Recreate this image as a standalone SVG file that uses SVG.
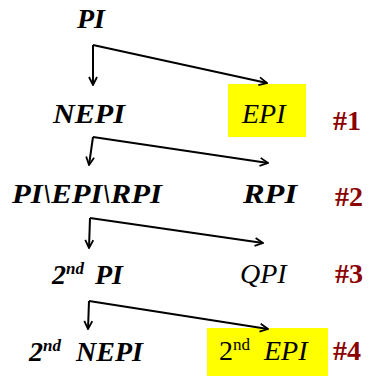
<svg xmlns="http://www.w3.org/2000/svg" width="370" height="376" viewBox="0 0 370 376">
<defs>
<marker id="ah" viewBox="0 0 10 10" refX="9" refY="5" markerWidth="10" markerHeight="10" markerUnits="userSpaceOnUse" orient="auto">
<path d="M1,1 L9,5 L1,9" fill="none" stroke="#000" stroke-width="1.8"/>
</marker>
</defs>
<rect width="370" height="376" fill="#fff"/>
<rect x="228" y="84" width="78" height="53" fill="#ffff00"/>
<rect x="207" y="328" width="121" height="48" fill="#ffff00"/>
<g id="connectors" fill="none" stroke="#000" stroke-width="2">
<path d="M93,45 L93,85" marker-end="url(#ah)"/>
<path d="M93,45 L267,83" marker-end="url(#ah)"/>
<path d="M93,137 L89,165" marker-end="url(#ah)"/>
<path d="M93,137 L268,163" marker-end="url(#ah)"/>
<path d="M90,218 L89,248" marker-end="url(#ah)"/>
<path d="M90,218 L263,243" marker-end="url(#ah)"/>
<path d="M89,301 L88,329" marker-end="url(#ah)"/>
<path d="M89,301 L268,329" marker-end="url(#ah)"/>
</g>
<g id="PI"><text x="77" y="28" font-family="Liberation Serif" font-size="28" font-weight="bold" font-style="italic">PI</text></g>
<g id="NEPI"><text x="53" y="123" font-family="Liberation Serif" font-size="28" font-weight="bold" font-style="italic" textLength="72" lengthAdjust="spacingAndGlyphs">NEPI</text></g>
<g id="EPI"><text x="242" y="123" font-family="Liberation Serif" font-size="28" font-style="italic">EPI</text></g>
<g id="PIEPIRPI"><text x="12" y="203" font-family="Liberation Serif" font-size="28" font-weight="bold" font-style="italic" textLength="150" lengthAdjust="spacingAndGlyphs">PI\EPI\RPI</text></g>
<g id="RPI"><text x="243" y="203" font-family="Liberation Serif" font-size="28" font-weight="bold" font-style="italic" textLength="54" lengthAdjust="spacingAndGlyphs">RPI</text></g>
<g id="PI2"><text x="52" y="284" font-family="Liberation Serif" font-size="28" font-weight="bold" font-style="italic">2<tspan font-size="17" dy="-10">nd</tspan><tspan x="95" dy="10">PI</tspan></text></g>
<g id="QPI"><text x="240" y="283" font-family="Liberation Serif" font-size="28" font-style="italic">QPI</text></g>
<g id="NEPI2"><text x="29" y="361" font-family="Liberation Serif" font-size="28" font-weight="bold" font-style="italic">2<tspan font-size="17" dy="-10">nd</tspan><tspan x="76" dy="10">NEPI</tspan></text></g>
<g id="EPI2"><text x="219" y="360" font-family="Liberation Serif" font-size="28">2<tspan font-size="17" dy="-10">nd</tspan><tspan font-style="italic" x="264" dy="10">EPI</tspan></text></g>
<g id="n1"><text x="333" y="130" font-family="Liberation Serif" font-size="28" font-weight="bold" fill="#8b0000">#1</text></g>
<g id="n2"><text x="335" y="206" font-family="Liberation Serif" font-size="28" font-weight="bold" fill="#8b0000">#2</text></g>
<g id="n3"><text x="335" y="283" font-family="Liberation Serif" font-size="28" font-weight="bold" fill="#8b0000">#3</text></g>
<g id="n4"><text x="333" y="360" font-family="Liberation Serif" font-size="28" font-weight="bold" fill="#8b0000">#4</text></g>
</svg>
